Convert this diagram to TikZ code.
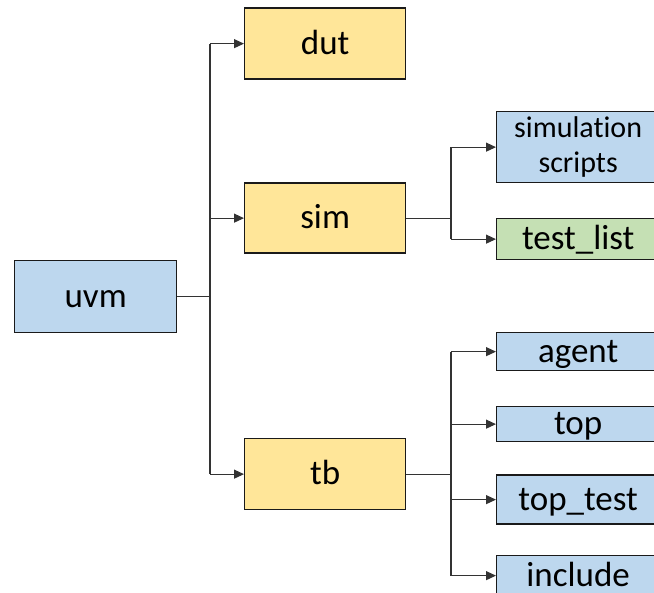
\documentclass[tikz,border=0pt]{standalone}
\usepackage{fontspec}
\setmainfont{Carlito}[Ligatures=NoCommon]
\usetikzlibrary{arrows.meta}
\definecolor{boxblue}{HTML}{BDD7EE}
\definecolor{boxyellow}{HTML}{FFE699}
\definecolor{boxgreen}{HTML}{C5E0B4}
\definecolor{edge}{HTML}{1A1A1A}
\begin{document}
\begin{tikzpicture}[x=1pt,y=-1pt,
  box/.style={draw=edge, line width=1.3pt, inner sep=0pt, anchor=north west,
    align=center, font=\fontsize{35}{40}\selectfont},
  oneline/.style={text height=28pt, text depth=6.3pt},
  bluebox/.style={box, fill=boxblue},
  yellowbox/.style={box, oneline, fill=boxyellow},
  greenbox/.style={box, oneline, fill=boxgreen},
  link/.style={draw=black!80, line width=1.1pt},
  arr/.style={link, -{Triangle[length=10pt,width=9pt]}}]
\useasboundingbox (0,0) rectangle (654,593);
\clip (0,0) rectangle (654,593);

% root
\node[bluebox, oneline, minimum width=162pt, minimum height=72pt] (uvm) at (14,260) {uvm};

% second level
\node[yellowbox, minimum width=161pt, minimum height=71pt] (dut) at (244,7.5) {dut};
\node[yellowbox, minimum width=161pt, minimum height=70pt] (sim) at (244,182.5) {sim};
\node[yellowbox, minimum width=161pt, minimum height=71pt] (tb) at (244,438) {tb};

% leaves of sim
\node[bluebox, minimum width=163pt, minimum height=71pt, font=\fontsize{30}{35}\selectfont] (scripts) at (496,111) {simulation\\scripts};
\node[greenbox, minimum width=163pt, minimum height=41pt] (testlist) at (496,218) {test\_list};

% leaves of tb
\node[bluebox, oneline, minimum width=163pt, minimum height=38pt] (agent) at (496,332) {agent};
\node[bluebox, oneline, minimum width=163pt, minimum height=35pt] (top) at (496,406) {top};
\node[bluebox, oneline, minimum width=163pt, minimum height=49pt] (toptest) at (496,474.5) {top\_test};
\node[bluebox, oneline, minimum width=163pt, minimum height=40pt] (include) at (496,555) {include};

% junction points
\coordinate (j1) at (210,297);
\coordinate (j2) at (451,218);
\coordinate (j3) at (451,474);

% uvm -> dut, sim, tb
\draw[link] (uvm.east) -- (uvm.east -| j1);
\draw[link] (j1 |- dut.west) -- (j1 |- tb.west);
\draw[arr] (j1 |- dut.west) -- (dut.west);
\draw[arr] (j1 |- sim.west) -- (sim.west);
\draw[arr] (j1 |- tb.west) -- (tb.west);

% sim -> leaves
\draw[link] (sim.east) -- (sim.east -| j2);
\draw[link] (j2 |- scripts.west) -- (j2 |- testlist.west);
\draw[arr] (j2 |- scripts.west) -- (scripts.west);
\draw[arr] (j2 |- testlist.west) -- (testlist.west);

% tb -> leaves
\draw[link] (tb.east) -- (tb.east -| j3);
\draw[link] (j3 |- agent.west) -- (j3 |- include.west);
\draw[arr] (j3 |- agent.west) -- (agent.west);
\draw[arr] (j3 |- top.west) -- (top.west);
\draw[arr] (j3 |- toptest.west) -- (toptest.west);
\draw[arr] (j3 |- include.west) -- (include.west);
\end{tikzpicture}
\end{document}
